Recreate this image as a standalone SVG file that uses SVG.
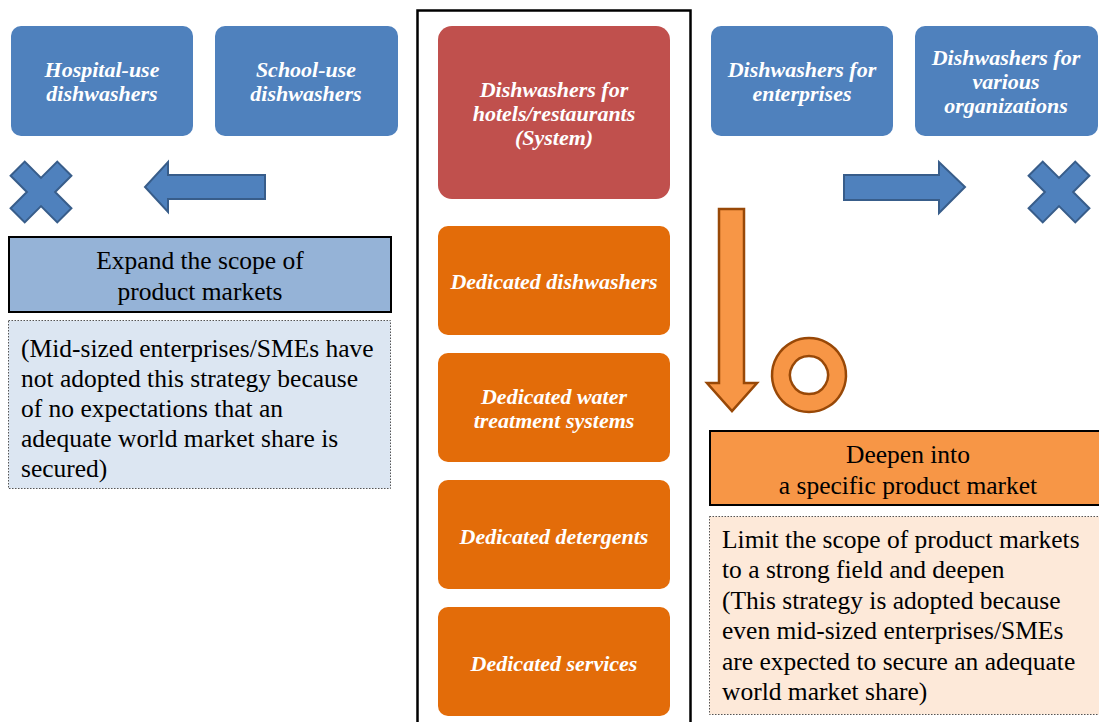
<svg xmlns="http://www.w3.org/2000/svg" width="1099" height="722" viewBox="0 0 1099 722" font-family="Liberation Serif, Times New Roman, serif">
<defs>
<style>
.blue{fill:#4F81BD;}
.red{fill:#C0504D;}
.org{fill:#E36C09;}
.wt{font-style:italic;font-weight:bold;font-size:22px;fill:#ffffff;text-anchor:middle;}
.bt{font-size:25.5px;fill:#000000;}
.c{text-anchor:middle;}
.xm{fill:#4F81BD;stroke:#385D8A;stroke-width:2;}
.barr{fill:#4F81BD;stroke:#385D8A;stroke-width:2;}
.oarr{fill:#F79646;stroke:#984807;stroke-width:2.5;}
</style>
<path id="plus" d="M-10,-33 H10 V-10 H33 V10 H10 V33 H-10 V10 H-33 V-10 H-10 Z"/>
</defs>
<rect width="1099" height="722" fill="#ffffff"/>

<g id="frame">
<rect x="417.5" y="10.5" width="273" height="720" fill="none" stroke="#000" stroke-width="2.5"/>
</g>

<g id="hospital">
<rect class="blue" x="11" y="26" width="182" height="110" rx="10"/>
<text class="wt" x="102" y="77">Hospital-use</text>
<text class="wt" x="102" y="101">dishwashers</text>
</g>
<g id="school">
<rect class="blue" x="215" y="26" width="183" height="110" rx="10"/>
<text class="wt" x="306" y="77">School-use</text>
<text class="wt" x="306" y="101">dishwashers</text>
</g>
<g id="enterprises">
<rect class="blue" x="711" y="26" width="182" height="110" rx="10"/>
<text class="wt" x="802" y="77">Dishwashers for</text>
<text class="wt" x="802" y="101">enterprises</text>
</g>
<g id="various">
<rect class="blue" x="915" y="26" width="183" height="110" rx="10"/>
<text class="wt" x="1006" y="65">Dishwashers for</text>
<text class="wt" x="1006" y="89">various</text>
<text class="wt" x="1006" y="113">organizations</text>
</g>

<g id="hotels">
<rect class="red" x="438" y="26" width="232" height="173" rx="14"/>
<text class="wt" x="554" y="97">Dishwashers for</text>
<text class="wt" x="554" y="121">hotels/restaurants</text>
<text class="wt" x="554" y="145">(System)</text>
</g>
<g id="ded-dishwashers">
<rect class="org" x="438" y="226" width="232" height="109" rx="10"/>
<text class="wt" x="554" y="289">Dedicated dishwashers</text>
</g>
<g id="ded-water">
<rect class="org" x="438" y="353" width="232" height="109" rx="10"/>
<text class="wt" x="554" y="404">Dedicated water</text>
<text class="wt" x="554" y="428">treatment systems</text>
</g>
<g id="ded-detergents">
<rect class="org" x="438" y="480" width="232" height="109" rx="10"/>
<text class="wt" x="554" y="544">Dedicated detergents</text>
</g>
<g id="ded-services">
<rect class="org" x="438" y="607" width="232" height="109" rx="10"/>
<text class="wt" x="554" y="671">Dedicated services</text>
</g>

<g id="cross-left">
<use href="#plus" class="xm" transform="translate(41,192) rotate(45)"/>
</g>
<g id="cross-right">
<use href="#plus" class="xm" transform="translate(1059,192) rotate(45)"/>
</g>
<g id="ring">
<path d="M809,338 a37,37 0 1,0 0.01,0 Z M809,356 a19,19 0 1,1 -0.01,0 Z" fill="#F79646" fill-rule="evenodd" stroke="#984807" stroke-width="2.5"/>
</g>

<g id="connectors">
<polygon class="barr" points="265,175 168,175 168,162 145,187 168,212 168,199 265,199"/>
<polygon class="barr" points="844,175 939,175 939,162 965,187 939,213 939,200 844,200"/>
<polygon class="oarr" points="719,209 744,209 744,383 757,383 732,411 707,383 719,383"/>
</g>

<g id="expand">
<rect x="9" y="237" width="382" height="75" fill="#95B3D7" stroke="#000" stroke-width="2"/>
<text class="bt c" x="200" y="269">Expand the scope of</text>
<text class="bt c" x="200" y="300">product markets</text>
</g>
<g id="expand-note">
<rect x="8.5" y="320.5" width="382" height="168" fill="#DCE6F2" stroke="#555" stroke-width="1" stroke-dasharray="1.5,1.5"/>
<text class="bt" x="21" y="357">(Mid-sized enterprises/SMEs have</text>
<text class="bt" x="21" y="387">not adopted this strategy because</text>
<text class="bt" x="21" y="417">of no expectations that an</text>
<text class="bt" x="21" y="447">adequate world market share is</text>
<text class="bt" x="21" y="477">secured)</text>
</g>

<g id="deepen">
<rect x="710" y="431" width="395" height="74" fill="#F79646" stroke="#000" stroke-width="2"/>
<text class="bt c" x="908" y="463">Deepen into</text>
<text class="bt c" x="908" y="494">a specific product market</text>
</g>
<g id="deepen-note">
<rect x="709.5" y="516.5" width="395" height="198" fill="#FDE9D9" stroke="#555" stroke-width="1" stroke-dasharray="1.5,1.5"/>
<text class="bt" x="722" y="548">Limit the scope of product markets</text>
<text class="bt" x="722" y="578">to a strong field and deepen</text>
<text class="bt" x="722" y="609">(This strategy is adopted because</text>
<text class="bt" x="722" y="639">even mid-sized enterprises/SMEs</text>
<text class="bt" x="722" y="670">are expected to secure an adequate</text>
<text class="bt" x="722" y="700">world market share)</text>
</g>
</svg>
